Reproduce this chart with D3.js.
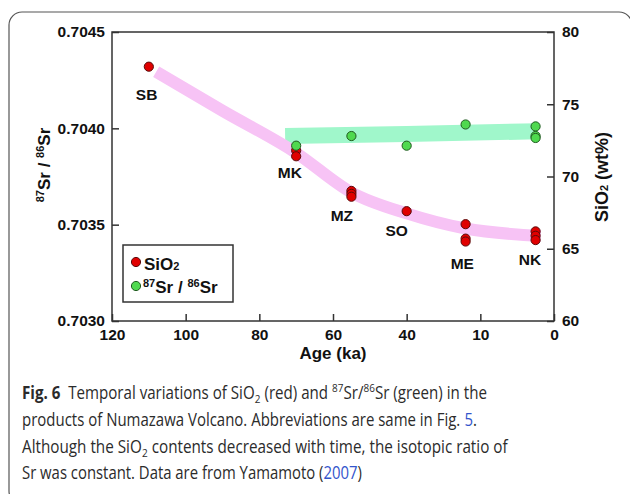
<!DOCTYPE html>
<html><head><meta charset="utf-8">
<script src="https://cdn.jsdelivr.net/npm/d3@7"></script>
<style>
body{margin:0;background:#fff;}
svg{display:block;}
.ax text{font-family:"Liberation Sans",Arial,Helvetica,sans-serif;font-weight:bold;font-size:15.5px;fill:#111;}
.ax line{stroke:#333;stroke-width:1.5;}
.b{font-family:"Liberation Sans",Arial,Helvetica,sans-serif;font-weight:bold;fill:#111;}
.cap{font-family:"Open Sans","Noto Sans",sans-serif;font-size:17.5px;fill:#2b2b2b;}
</style></head>
<body>
<script>
// ---- data ----
const units = ["SB","MK","MZ","SO","ME","NK"];
const labelAge  = [110.6, 71.7, 57.6, 42.7, 24.9, 6.5];
const labelSiO2 = [75.71, 70.25, 67.34, 66.26, 64.0, 64.28];
const sio2Age = [110, 70, 70, 55, 55, 55, 40, 24, 24, 24, 5, 5, 5];
const sio2Val = [77.6, 71.8, 71.4, 69.0, 68.8, 68.6, 67.6, 66.7, 65.7, 65.5, 66.2, 65.9, 65.6];
const srAge = [70, 55, 40, 24, 5, 5, 5];
const srVal = [0.70391, 0.70396, 0.70391, 0.70402, 0.70401, 0.70396, 0.70395];
const sio2TrendAge = [108, 90, 70, 55, 40, 24, 3.6];
const sio2TrendVal = [77.25, 74.55, 71.63, 68.9, 67.45, 66.4, 65.89];
const srTrendAge = [73, 40, 4.5];
const srTrendVal = [0.70396, 0.70397, 0.703985];
const xTickVals = [120, 100, 80, 60, 40, 20, 0];
const xTickLabels = ["120", "100", "80", "60", "40", "10", "0"];
const srTicks = [0.7030, 0.7035, 0.7040, 0.7045];
const sio2Ticks = [60, 65, 70, 75, 80];

const W = 630, H = 494;
const L = 112, R = 554, T = 32, B = 321;
const svg = d3.select("body").append("svg").attr("width", W).attr("height", H);

// outer rounded frame
svg.append("rect").attr("x", 9).attr("y", 12).attr("width", 623).attr("height", 492)
  .attr("rx", 13).attr("fill", "none").attr("stroke", "#555").attr("stroke-width", 1.2);

const x = d3.scaleLinear().domain([120, 0]).range([L, R]);
const yL = d3.scaleLinear().domain([0.7030, 0.7045]).range([B, T]);
const yR = d3.scaleLinear().domain([60, 80]).range([B, T]);

// bands
const line = d3.line().curve(d3.curveMonotoneX);
svg.append("path")
  .attr("d", line(srTrendAge.map((a, i) => [x(a), yL(srTrendVal[i])])))
  .attr("fill", "none").attr("stroke", "#a0f7cb").attr("stroke-width", 16).attr("stroke-linecap", "butt");
svg.append("path")
  .attr("d", line(sio2TrendAge.map((a, i) => [x(a), yR(sio2TrendVal[i])])))
  .attr("fill", "none").attr("stroke", "#f7c3f5").attr("stroke-width", 12).attr("stroke-linecap", "butt");

// axes
svg.append("g").attr("class", "ax").attr("transform", `translate(${L},0)`)
  .call(d3.axisLeft(yL).tickValues(srTicks).tickFormat(d3.format(".4f")).tickSizeInner(-7).tickSizeOuter(0).tickPadding(7));
svg.append("g").attr("class", "ax").attr("transform", `translate(${R},0)`)
  .call(d3.axisRight(yR).tickValues(sio2Ticks).tickFormat(d3.format("d")).tickSizeInner(-7).tickSizeOuter(0).tickPadding(8));
svg.append("g").attr("class", "ax").attr("transform", `translate(0,${B})`)
  .call(d3.axisBottom(x).tickValues(xTickVals).tickFormat((d, i) => xTickLabels[i]).tickSizeInner(-7).tickSizeOuter(0).tickPadding(8));
svg.selectAll(".ax .domain").remove();
svg.append("rect").attr("x", L).attr("y", T).attr("width", R - L).attr("height", B - T)
  .attr("fill", "none").attr("stroke", "#333").attr("stroke-width", 1.5);

// points
svg.append("g").selectAll("circle").data(sio2Age).join("circle")
  .attr("cx", d => x(d)).attr("cy", (d, i) => yR(sio2Val[i])).attr("r", 4.6)
  .attr("fill", "#e00000").attr("stroke", "#5a0a0a").attr("stroke-width", 1);
svg.append("g").selectAll("circle").data(srAge).join("circle")
  .attr("cx", d => x(d)).attr("cy", (d, i) => yL(srVal[i])).attr("r", 4.6)
  .attr("fill", "#4fd94f").attr("stroke", "#1f5a1f").attr("stroke-width", 1);

// unit labels
svg.append("g").selectAll("text").data(units).join("text").attr("class", "b")
  .attr("x", (d, i) => x(labelAge[i])).attr("y", (d, i) => yR(labelSiO2[i]))
  .attr("dy", "0.36em").attr("text-anchor", "middle").style("font-size", "15.5px").text(d => d);

// axis titles
svg.append("text").attr("class", "b").attr("x", x(60)).attr("y", 359).attr("text-anchor", "middle")
  .style("font-size", "17px").text("Age (ka)");

const lt = svg.append("text").attr("class", "b").attr("transform", "translate(50,165) rotate(-90)")
  .attr("text-anchor", "middle").style("font-size", "17px");
lt.append("tspan").attr("dy", -6).style("font-size", "11px").text("87");
lt.append("tspan").attr("dy", 6).text("Sr / ");
lt.append("tspan").attr("dy", -6).style("font-size", "11px").text("86");
lt.append("tspan").attr("dy", 6).text("Sr");

const rt = svg.append("text").attr("class", "b").attr("transform", "translate(608,177) rotate(-90)")
  .attr("text-anchor", "middle").style("font-size", "18px");
rt.append("tspan").text("SiO");
rt.append("tspan").style("font-size", "11px").text("2");
rt.append("tspan").text(" (wt%)");

// legend
svg.append("rect").attr("x", 123).attr("y", 245).attr("width", 110).attr("height", 57)
  .attr("fill", "#fff").attr("stroke", "#333").attr("stroke-width", 1.5);
svg.append("circle").attr("cx", 136).attr("cy", 262).attr("r", 4.6).attr("fill", "#e00000").attr("stroke", "#5a0a0a");
svg.append("circle").attr("cx", 136).attr("cy", 286).attr("r", 4.6).attr("fill", "#4fd94f").attr("stroke", "#1f5a1f");
const l1 = svg.append("text").attr("class", "b").attr("x", 144).attr("y", 270).style("font-size", "17px");
l1.append("tspan").text("SiO");
l1.append("tspan").style("font-size", "11px").text("2");
const l2 = svg.append("text").attr("class", "b").attr("x", 143).attr("y", 293).style("font-size", "17px");
l2.append("tspan").attr("dy", -6).style("font-size", "11px").text("87");
l2.append("tspan").attr("dy", 6).text("Sr / ");
l2.append("tspan").attr("dy", -6).style("font-size", "11px").text("86");
l2.append("tspan").attr("dy", 6).text("Sr");

// caption: each segment its own text, laid out by measured width, then scaled to the line width
const blue = "#3355cc";
function cap(y, len, parts) {
  const g = svg.append("g");
  let cx = 0;
  parts.forEach(p => {
    const t = g.append("text").attr("class", "cap").attr("x", cx).attr("y", p.sub ? 4 : p.sup ? -7 : 0)
      .style("white-space", "pre").text(p.t);
    if (p.b) t.style("font-weight", "bold");
    if (p.c) t.style("fill", p.c);
    if (p.sub || p.sup) t.style("font-size", "11.5px");
    cx += t.node().getComputedTextLength();
  });
  g.attr("transform", `translate(22,${y}) scale(${len / cx},1)`);
}
cap(399, 465, [{t:"Fig. 6", b:1}, {t:"\u00a0 Temporal variations of SiO"}, {t:"2", sub:1}, {t:" (red) and "},
  {t:"87", sup:1}, {t:"Sr/"}, {t:"86", sup:1}, {t:"Sr (green) in the"}]);
cap(425.7, 455, [{t:"products of Numazawa Volcano. Abbreviations are same in Fig.\u00a0"}, {t:"5", c:blue}, {t:"."}]);
cap(452.7, 486, [{t:"Although the SiO"}, {t:"2", sub:1}, {t:" contents decreased with time, the isotopic ratio of"}]);
cap(479.3, 340, [{t:"Sr was constant. Data are from Yamamoto ("}, {t:"2007", c:blue}, {t:")"}]);
</script>
</body></html>
